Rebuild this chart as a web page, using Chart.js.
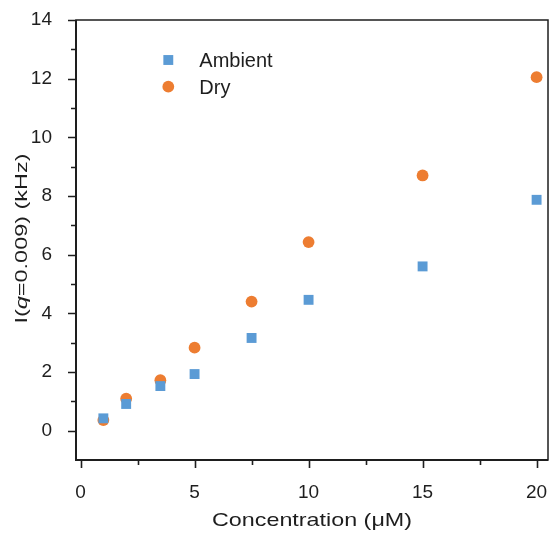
<!DOCTYPE html>
<html>
<head>
<meta charset="utf-8">
<script src="https://cdn.jsdelivr.net/npm/chart.js@4/dist/chart.umd.min.js"></script>
<style>
    html, body { margin: 0; padding: 0; background: #fff; overflow: hidden; }
    #wrap { width: 550px; height: 533px; }
</style>
</head>
<body>
<div id="wrap"><canvas id="chart"></canvas></div>
<script>
// Data
const concentrations = [1, 2, 3.5, 5, 7.5, 10, 15, 20];
const ambientValues = [0.42, 0.91, 1.52, 1.93, 3.16, 4.46, 5.6, 7.87];
const dryValues = [0.36, 1.09, 1.72, 2.83, 4.4, 6.43, 8.7, 12.05];
const seriesLabels = ['Ambient', 'Dry'];

// Axes
const xMajorTicks = [0, 5, 10, 15, 20];
const xMinorTicks = [2.5, 7.5, 12.5, 17.5];
const yMajorTicks = [0, 2, 4, 6, 8, 10, 12, 14];
const yMinorTicks = [1, 3, 5, 7, 9, 11, 13];
const xTitle = 'Concentration (μM)';
const yTitleParts = [['I(', false], ['q', true], ['=0.009) (kHz)', false]];

const FONT = '"Liberation Sans", Arial, sans-serif';
const INK = '#1e1e1e';
const PLOT_RIGHT_GAP = 2;

// Helpers
const toPoints = (xs, ys) => xs.map((x, i) => ({ x: x, y: ys[i] }));

// text squeezed/stretched to a given width, centred on (x, y)
const drawStretched = (ctx, parts, size, x, y, width, rotate) => {
    ctx.save();
    ctx.translate(x, y);
    if (rotate) ctx.rotate(-Math.PI / 2);
    let total = 0;
    const widths = parts.map(([t, italic]) => {
        ctx.font = (italic ? 'italic ' : '') + size + 'px ' + FONT;
        const w = ctx.measureText(t).width;
        total += w;
        return w;
    });
    ctx.scale(width / total, 1);
    ctx.fillStyle = INK;
    ctx.textBaseline = 'alphabetic';
    ctx.textAlign = 'left';
    let cx = -total / 2;
    parts.forEach(([t, italic], i) => {
        ctx.font = (italic ? 'italic ' : '') + size + 'px ' + FONT;
        ctx.fillText(t, cx, 0);
        cx += widths[i];
    });
    ctx.restore();
};

// Chart.js keeps a few px of label padding on the right; stretch the plot to the edge
const fullWidth = {
    id: 'fullWidth',
    afterLayout(chart) {
        const a = chart.chartArea;
        const x = chart.scales.x;
        const right = chart.width - PLOT_RIGHT_GAP;
        a.right = right;
        a.width = right - a.left;
        x.right = right;
        x.width = right - x.left;
        x.configure();
    }
};

// Frame, tick marks, titles and legend
const decorations = {
    id: 'decorations',
    afterDraw(chart) {
        const { ctx, chartArea: a, scales: { x, y } } = chart;
        ctx.save();
        ctx.strokeStyle = INK;

        ctx.lineWidth = 1.5;
        ctx.strokeRect(a.left, a.top, a.right - a.left, a.bottom - a.top);
        ctx.lineWidth = 2;
        ctx.beginPath();
        ctx.moveTo(a.left, a.top);
        ctx.lineTo(a.left, a.bottom);
        ctx.lineTo(a.right, a.bottom);
        ctx.stroke();

        ctx.lineWidth = 1.6;
        ctx.beginPath();
        yMajorTicks.forEach(v => {
            const py = Math.round(y.getPixelForValue(v)) + 0.5;
            ctx.moveTo(a.left, py); ctx.lineTo(a.left - 8, py);
        });
        yMinorTicks.forEach(v => {
            const py = Math.round(y.getPixelForValue(v)) + 0.5;
            ctx.moveTo(a.left, py); ctx.lineTo(a.left - 5, py);
        });
        xMajorTicks.forEach(v => {
            const px = Math.round(x.getPixelForValue(v)) + 0.5;
            ctx.moveTo(px, a.bottom); ctx.lineTo(px, a.bottom + 8);
        });
        xMinorTicks.forEach(v => {
            const px = Math.round(x.getPixelForValue(v)) + 0.5;
            ctx.moveTo(px, a.bottom); ctx.lineTo(px, a.bottom + 5);
        });
        ctx.stroke();
        ctx.restore();

        // axis titles
        drawStretched(ctx, [[xTitle, false]], 18.5, (a.left + a.right) / 2, 526, 200, false);
        drawStretched(ctx, yTitleParts, 16.5, 26.7, (a.top + a.bottom) / 2 - 1.5, 170, true);

        // legend
        const legendRows = [60, 86.7];
        chart.data.datasets.forEach((ds, i) => {
            ctx.save();
            ctx.fillStyle = ds.backgroundColor;
            Chart.helpers.drawPoint(ctx, {
                pointStyle: ds.pointStyle,
                radius: ds.pointRadius,
                rotation: 0,
                borderWidth: 0
            }, 168.3, legendRows[i]);
            ctx.fillStyle = INK;
            ctx.font = '20px ' + FONT;
            ctx.textBaseline = 'alphabetic';
            ctx.fillText(ds.label, 199.3, legendRows[i] + 7.3);
            ctx.restore();
        });
    }
};

const ctx = document.getElementById('chart').getContext('2d');
new Chart(ctx, {
    type: 'scatter',
    data: {
        datasets: [{
            label: seriesLabels[0],
            data: toPoints(concentrations, ambientValues),
            pointStyle: 'rect',
            pointRadius: 7,
            backgroundColor: '#5b9bd5',
            borderWidth: 0
        }, {
            label: seriesLabels[1],
            data: toPoints(concentrations, dryValues),
            pointStyle: 'circle',
            pointRadius: 5.9,
            backgroundColor: '#ed7d31',
            borderWidth: 0
        }]
    },
    options: {
        responsive: true,
        maintainAspectRatio: false,
        animation: false,
        layout: { padding: { top: 20, right: PLOT_RIGHT_GAP, left: 0, bottom: 0 } },
        plugins: {
            legend: { display: false },
            tooltip: { enabled: false }
        },
        scales: {
            x: {
                type: 'linear',
                min: -0.2,
                max: 20.5,
                afterBuildTicks: scale => { scale.ticks = xMajorTicks.map(v => ({ value: v })); },
                afterFit: scale => {
                    scale.height = 73;
                    scale.paddingLeft = 0;
                    scale.paddingRight = 0;
                },
                grid: { display: false },
                border: { display: false },
                ticks: {
                    padding: 13,
                    color: INK,
                    font: { family: FONT, size: 19 }
                }
            },
            y: {
                min: -1,
                max: 14,
                afterBuildTicks: scale => { scale.ticks = yMajorTicks.map(v => ({ value: v })); },
                afterFit: scale => {
                    scale.width = 76;
                    scale.paddingTop = 0;
                    scale.paddingBottom = 0;
                },
                grid: { display: false },
                border: { display: false },
                ticks: {
                    padding: 16,
                    color: INK,
                    font: { family: FONT, size: 19 }
                }
            }
        }
    },
    plugins: [fullWidth, decorations]
});
</script>
</body>
</html>
